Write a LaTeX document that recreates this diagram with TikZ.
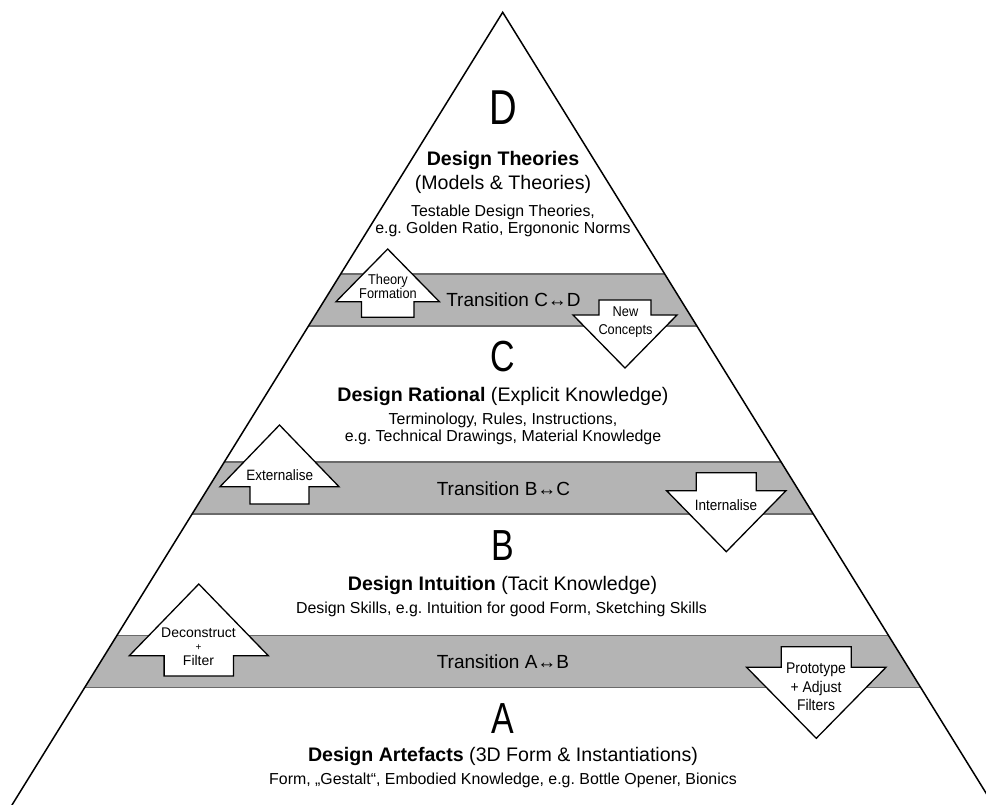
\documentclass[tikz,border=0pt]{standalone}
\usepackage{fontspec}
\setmainfont{Liberation Sans}
\newfontfamily\bigletter{Liberation Sans}[FakeStretch=0.78]
\newfontfamily\lblfont{Liberation Sans}[FakeStretch=0.9]
\definecolor{bandgray}{HTML}{B4B4B4}
\definecolor{bandedge}{HTML}{6A6A6A}
\tikzset{
  band/.style={fill=bandgray},
  bandline/.style={draw=bandedge, line width=1.1pt},
  side/.style={draw=black, line width=1.5pt, line join=miter},
  blockarrow/.style={draw=black, fill=white, line width=1.3pt, line join=miter},
  txt/.style={inner sep=0pt, anchor=base},
  letterD/.style={txt, font=\bigletter\fontsize{49}{50}\selectfont},
  letterX/.style={txt, font=\bigletter\fontsize{43.5}{45}\selectfont},
  head/.style={txt, font=\fontsize{19.6}{22}\selectfont},
  sub/.style={txt, font=\fontsize{15.9}{18}\selectfont},
  trans/.style={txt, font=\fontsize{19}{21}\selectfont},
  lblone/.style={inner sep=0pt, anchor=base, font=\lblfont\fontsize{15}{16}\selectfont},
  lblmulti/.style={inner sep=0pt, anchor=center, align=center},
  lbltight/.style={inner sep=0pt, anchor=base, font=\fontsize{14}{15}\selectfont},
  lblplus/.style={inner sep=0pt, anchor=base, font=\fontsize{10}{11}\selectfont},
}
% cx, tip y, head half width, head base y, shaft half width, shaft end y
\newcommand\blockarrowpath[6]{%
  \draw[blockarrow] (#1,#2) -- (#1+#3,#4) -- (#1+#5,#4) -- (#1+#5,#6)
    -- (#1-#5,#6) -- (#1-#5,#4) -- (#1-#3,#4) -- cycle;}
\begin{document}
\frenchspacing
\begin{tikzpicture}[x=1pt,y=-1pt]
\useasboundingbox (0,0) rectangle (986,805);
\fill[white] (0,0) rectangle (986,805);
\coordinate (apex) at (502.7,12.3);
\coordinate (bl) at (-3.5,830);
\coordinate (br) at (1008.9,830);

% bands
\begin{scope}
  \clip (apex) -- (bl) -- (br) -- cycle;
  \fill[band] (0,274) rectangle (986,326);
  \draw[bandline] (0,274) -- (986,274);
  \draw[bandline] (0,326) -- (986,326);
  \fill[band] (0,462) rectangle (986,514);
  \draw[bandline] (0,462) -- (986,462);
  \draw[bandline] (0,514) -- (986,514);
  \fill[band] (0,635.5) rectangle (986,687.3);
  \draw[bandline] (0,635.5) -- (986,635.5);
  \draw[bandline] (0,687.3) -- (986,687.3);
\end{scope}

% pyramid sides
\begin{scope}
  \clip (0,0) rectangle (986,805);
  \draw[side] (bl) -- (apex) -- (br);
\end{scope}

% block arrows
\blockarrowpath{387.7}{249}{51.7}{301.7}{26.3}{317.3}
\blockarrowpath{625}{368}{52}{315}{26}{300}
\blockarrowpath{279.5}{425}{59.5}{486.7}{29.5}{504}
\blockarrowpath{726.3}{551.7}{59.7}{490.7}{30}{472.7}
\blockarrowpath{198.8}{584}{69.5}{655.7}{34.7}{676}
\blockarrowpath{816.3}{738.3}{69.7}{667.3}{35}{646.7}

% level D
\node[letterD] (lD) at (503,125) {D};
\node[head] (hD1) at (503,165.7) {\textbf{Design Theories}};
\node[head] (hD2) at (503,189.3) {(Models \& Theories)};
\node[sub] (sD1) at (503,216.7) {Testable Design Theories,};
\node[sub] (sD2) at (503,233.3) {e.g. Golden Ratio, Ergononic Norms};

% transition C-D
\node[trans] (tCD) at (513.5,306.7) {Transition C↔D};
\node[lblmulti, font=\lblfont\fontsize{14.2}{14}\selectfont] (aTF) at (388,286.8) {Theory\\Formation};
\node[lblmulti, font=\lblfont\fontsize{14.2}{18.3}\selectfont] (aNC) at (625.5,322.2) {New\\Concepts};

% level C
\node[letterX] (lC) at (503,371) {C};
\node[head] (hC) at (503,401) {\textbf{Design Rational} (Explicit Knowledge)};
\node[sub] (sC1) at (503,424) {Terminology, Rules, Instructions,};
\node[sub] (sC2) at (503,441) {e.g. Technical Drawings, Material Knowledge};

% transition B-C
\node[trans] (tBC) at (503.5,495) {Transition B↔C};
\node[lblone] (aEx) at (279.7,480.7) {Externalise};
\node[lblone] (aIn) at (726,510.7) {Internalise};

% level B
\node[letterX] (lB) at (503,560) {B};
\node[head] (hB) at (502.5,590.7) {\textbf{Design Intuition} (Tacit Knowledge)};
\node[sub] (sB) at (501.5,613.3) {Design Skills, e.g. Intuition for good Form, Sketching Skills};

% transition A-B
\node[trans] (tAB) at (503,668.5) {Transition A↔B};
\node[lbltight] (aDc1) at (198.5,637.5) {Deconstruct};
\node[lblplus] (aDc2) at (198.5,650.5) {+};
\node[lbltight] (aDc3) at (198.5,665.5) {Filter};
\node[lblmulti, font=\lblfont\fontsize{15.5}{18.3}\selectfont] (aPr) at (816,686.8) {Prototype\\+ Adjust\\Filters};

% level A
\node[letterX] (lA) at (503,733) {A};
\node[head] (hA) at (503,761.7) {\textbf{Design Artefacts} (3D Form \& Instantiations)};
\node[sub] (sA) at (503,784.3) {Form, „Gestalt“, Embodied Knowledge, e.g. Bottle Opener, Bionics};
\end{tikzpicture}
\end{document}
